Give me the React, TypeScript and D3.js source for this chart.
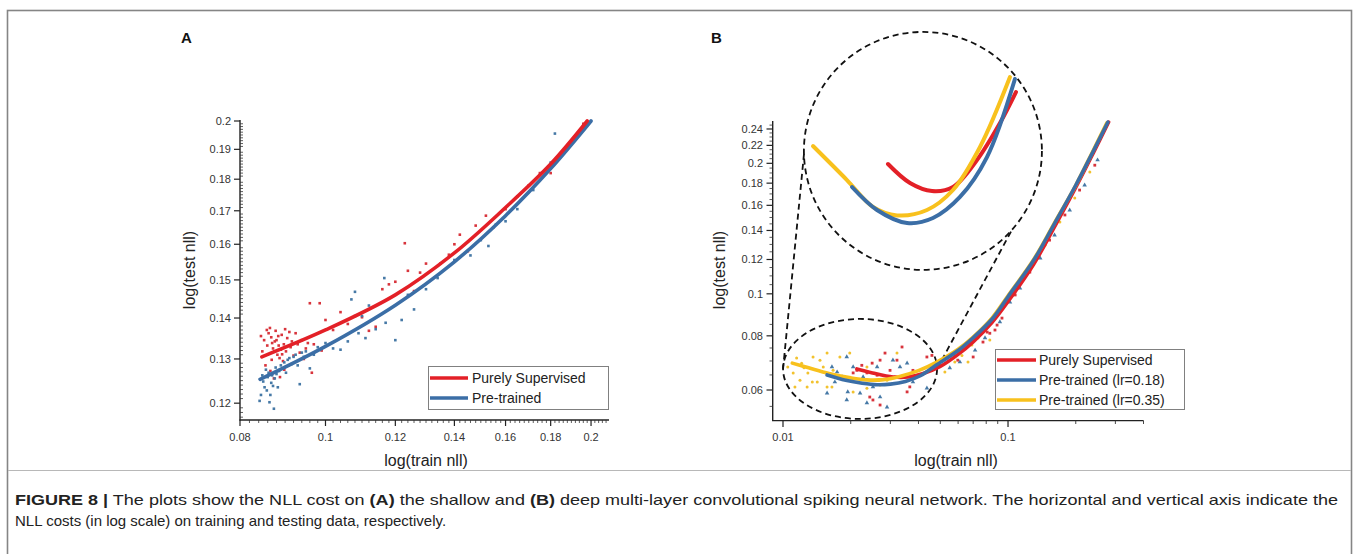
import React from 'react';
import * as d3 from 'd3';

// ---------- Panel A data ----------
const aXTicks = [0.08, 0.1, 0.12, 0.14, 0.16, 0.18, 0.2];
const aXTickLabels = ['0.08', '0.1', '0.12', '0.14', '0.16', '0.18', '0.2'];
const aYTicks = [0.12, 0.13, 0.14, 0.15, 0.16, 0.17, 0.18, 0.19, 0.2];
const aYTickLabels = ['0.12', '0.13', '0.14', '0.15', '0.16', '0.17', '0.18', '0.19', '0.2'];

const aRedCurve: [number, number][] = [
  [0.0847, 0.1305], [0.1, 0.137], [0.12, 0.146], [0.14, 0.1575], [0.16, 0.171], [0.18, 0.185], [0.198, 0.2],
];
const aBlueCurve: [number, number][] = [
  [0.0843, 0.1253], [0.1, 0.133], [0.12, 0.1433], [0.14, 0.155], [0.16, 0.1685], [0.18, 0.1835], [0.2, 0.2],
];
const aRedPoints: [number, number][] = [
  [0.0845, 0.1355], [0.0852, 0.1345], [0.0858, 0.137], [0.0862, 0.1362], [0.0865, 0.1375], [0.0868, 0.1352],
  [0.087, 0.1338], [0.0872, 0.1325], [0.0875, 0.1318], [0.0878, 0.1368], [0.088, 0.1345], [0.0882, 0.131],
  [0.0885, 0.1332], [0.0887, 0.1302], [0.089, 0.1322], [0.0892, 0.1358], [0.0895, 0.1295], [0.0897, 0.1335],
  [0.09, 0.1372], [0.0902, 0.1318], [0.0905, 0.135], [0.0908, 0.1285], [0.091, 0.1365], [0.0913, 0.1328],
  [0.0916, 0.1342], [0.092, 0.1308], [0.0925, 0.1362], [0.093, 0.1335], [0.0935, 0.1315], [0.094, 0.1345],
  [0.0945, 0.13], [0.095, 0.1325], [0.0955, 0.1338], [0.096, 0.1438], [0.0965, 0.1268], [0.097, 0.1335],
  [0.0985, 0.1438], [0.099, 0.132], [0.1, 0.1395], [0.102, 0.137], [0.104, 0.1415], [0.106, 0.1385],
  [0.108, 0.1405], [0.11, 0.1402], [0.112, 0.1368], [0.114, 0.1378], [0.116, 0.1475], [0.118, 0.1488],
  [0.12, 0.1495], [0.123, 0.1603], [0.124, 0.1525], [0.126, 0.147], [0.128, 0.152], [0.13, 0.1545],
  [0.135, 0.1545], [0.138, 0.157], [0.14, 0.16], [0.142, 0.1628], [0.145, 0.158], [0.148, 0.1655],
  [0.152, 0.1685], [0.155, 0.165], [0.16, 0.1705], [0.165, 0.1745], [0.17, 0.178], [0.175, 0.182],
  [0.18, 0.182], [0.185, 0.188], [0.19, 0.1925], [0.196, 0.199],
  [0.0855, 0.1285], [0.0866, 0.1272], [0.0874, 0.1255], [0.0888, 0.1258], [0.0898, 0.1275],
  [0.0848, 0.1318], [0.0859, 0.1332], [0.0869, 0.1298], [0.0876, 0.1342], [0.0884, 0.1355], [0.0893, 0.1311],
];
const aBluePoints: [number, number][] = [
  [0.0842, 0.1205], [0.0845, 0.1218], [0.0848, 0.1262], [0.085, 0.1248], [0.0853, 0.1235], [0.0856, 0.1275],
  [0.0858, 0.1228], [0.086, 0.1258], [0.0862, 0.1268], [0.0864, 0.1202], [0.0866, 0.1218], [0.0868, 0.1245],
  [0.087, 0.1262], [0.0872, 0.1238], [0.0874, 0.1188], [0.0876, 0.1255], [0.0878, 0.128], [0.088, 0.1265],
  [0.0883, 0.1235], [0.0886, 0.1272], [0.089, 0.1285], [0.0894, 0.1278], [0.0898, 0.1292], [0.0902, 0.1268],
  [0.0906, 0.1298], [0.091, 0.1302], [0.0915, 0.1288], [0.092, 0.1305], [0.0925, 0.131], [0.093, 0.1285],
  [0.0935, 0.1242], [0.094, 0.1315], [0.0945, 0.1305], [0.095, 0.1318], [0.096, 0.1278], [0.097, 0.131],
  [0.098, 0.1328], [0.1, 0.1338], [0.102, 0.1325], [0.104, 0.1322], [0.106, 0.1342], [0.107, 0.1448],
  [0.108, 0.1468], [0.109, 0.1362], [0.11, 0.1405], [0.111, 0.135], [0.112, 0.1432], [0.114, 0.1372],
  [0.117, 0.1388], [0.1166, 0.1505], [0.12, 0.1345], [0.122, 0.1395], [0.124, 0.146], [0.126, 0.1422],
  [0.13, 0.1475], [0.134, 0.1505], [0.14, 0.1555], [0.146, 0.1568], [0.15, 0.1612], [0.153, 0.1595],
  [0.156, 0.1658], [0.16, 0.1668], [0.165, 0.1705], [0.172, 0.1765], [0.18, 0.1855], [0.182, 0.1955], [0.19, 0.1925],
];

// ---------- Panel B data ----------
const bXTicks = [0.01, 0.1];
const bXTickLabels = ['0.01', '0.1'];
const bXMinor = [0.02, 0.03, 0.04, 0.05, 0.06, 0.07, 0.08, 0.09, 0.2, 0.3, 0.4];
const bYTicks = [0.06, 0.08, 0.1, 0.12, 0.14, 0.16, 0.18, 0.2, 0.22, 0.24];
const bYTickLabels = ['0.06', '0.08', '0.1', '0.12', '0.14', '0.16', '0.18', '0.2', '0.22', '0.24'];

const bYellowCurve: [number, number][] = [
  [0.011, 0.0692], [0.013, 0.0675], [0.016, 0.0655], [0.02, 0.064], [0.0236, 0.0633], [0.028, 0.0634],
  [0.033, 0.0645], [0.04, 0.0665], [0.048, 0.0695], [0.06, 0.0745], [0.07, 0.0795], [0.085, 0.088],
  [0.1, 0.099], [0.13, 0.12], [0.16, 0.145], [0.2, 0.178], [0.24, 0.215], [0.275, 0.248],
];
const bBlueCurve: [number, number][] = [
  [0.0157, 0.065], [0.019, 0.0632], [0.0225, 0.0622], [0.0262, 0.0617], [0.03, 0.0619], [0.035, 0.0628],
  [0.041, 0.0648], [0.048, 0.0685], [0.06, 0.074], [0.07, 0.0792], [0.085, 0.0875], [0.1, 0.0985],
  [0.13, 0.1195], [0.16, 0.1445], [0.2, 0.178], [0.24, 0.214], [0.278, 0.249],
];
const bRedCurve: [number, number][] = [
  [0.0213, 0.0671], [0.025, 0.0657], [0.0308, 0.0643], [0.036, 0.0643], [0.042, 0.0655], [0.05, 0.068],
  [0.06, 0.0725], [0.07, 0.0775], [0.085, 0.086], [0.1, 0.096], [0.13, 0.117], [0.16, 0.142],
  [0.2, 0.176], [0.24, 0.212], [0.28, 0.249],
];

// magnified inset curves
const insetYellow: [number, number][] = [
  [0.011, 0.0692], [0.01506, 0.06578], [0.01916, 0.06319], [0.02393, 0.0624], [0.03157, 0.06291],
  [0.04015, 0.06481], [0.05155, 0.0691], [0.068, 0.07669],
];
const insetBlue: [number, number][] = [
  [0.01578, 0.0651], [0.01988, 0.06291], [0.02625, 0.0617], [0.03336, 0.06216], [0.04283, 0.06414],
  [0.05498, 0.06807], [0.07121, 0.07647],
];
const insetRed: [number, number][] = [
  [0.02201, 0.06737], [0.02698, 0.06549], [0.03307, 0.06471], [0.04015, 0.0651], [0.05013, 0.06777],
  [0.062, 0.07161], [0.07188, 0.075],
];

const bYellowPoints: [number, number][] = [
  [0.0115, 0.0711], [0.0121, 0.0692], [0.0124, 0.0675], [0.0129, 0.0657], [0.0135, 0.0626], [0.0113, 0.061],
  [0.0128, 0.061], [0.0136, 0.0715], [0.0146, 0.0703], [0.0151, 0.0678], [0.0157, 0.073], [0.0167, 0.0666],
  [0.0174, 0.0643], [0.0111, 0.0657], [0.0105, 0.0678], [0.0142, 0.0626], [0.0165, 0.061], [0.0179, 0.0715],
  [0.0205, 0.0594], [0.0236, 0.0606], [0.027, 0.0616], [0.0321, 0.073], [0.0378, 0.0657], [0.029, 0.0632],
  [0.0198, 0.073], [0.0236, 0.0678], [0.0157, 0.061], [0.0119, 0.0632],
  [0.0524, 0.066], [0.058, 0.0696], [0.0624, 0.0721], [0.0691, 0.0762], [0.0736, 0.0791], [0.079, 0.0825],
  [0.0875, 0.0879], [0.0969, 0.0942], [0.1076, 0.102], [0.125, 0.1146], [0.146, 0.1295], [0.17, 0.1464],
  [0.198, 0.1663], [0.231, 0.1909], [0.0664, 0.0696], [0.083, 0.0782],
];
const bBluePoints: [number, number][] = [
  [0.0157, 0.059], [0.017, 0.0626], [0.0174, 0.066], [0.0192, 0.0715], [0.0192, 0.0569], [0.0194, 0.0594],
  [0.022, 0.059], [0.0227, 0.0643], [0.0236, 0.056], [0.0251, 0.061], [0.027, 0.0578], [0.029, 0.0548],
  [0.0308, 0.0703], [0.0331, 0.0678], [0.0356, 0.0692], [0.0378, 0.0626], [0.0436, 0.0606], [0.0205, 0.0678],
  [0.0262, 0.0678], [0.0165, 0.0678], [0.0183, 0.0643],
  [0.0551, 0.0675], [0.0611, 0.0696], [0.0714, 0.0741], [0.079, 0.0791], [0.092, 0.0861], [0.102, 0.0957],
  [0.113, 0.103], [0.139, 0.1209], [0.161, 0.1366], [0.188, 0.156], [0.219, 0.178], [0.25, 0.2035], [0.141, 0.1275],
];
const bRedPoints: [number, number][] = [
  [0.0213, 0.0666], [0.0224, 0.0684], [0.0236, 0.0657], [0.0249, 0.0692], [0.0262, 0.0649], [0.027, 0.0703],
  [0.0284, 0.073], [0.0299, 0.0666], [0.0315, 0.0643], [0.0338, 0.0754], [0.0356, 0.0594], [0.0366, 0.061],
  [0.0378, 0.0666], [0.0436, 0.0715], [0.0459, 0.0721], [0.0251, 0.0569], [0.027, 0.0554], [0.0243, 0.0578],
  [0.0205, 0.0657], [0.0321, 0.0703],
  [0.0875, 0.0825], [0.083, 0.0811], [0.0774, 0.0774], [0.0808, 0.0816], [0.0894, 0.0847], [0.07, 0.0715],
  [0.0598, 0.0703], [0.094, 0.0879], [0.1076, 0.0994], [0.125, 0.1122], [0.153, 0.133], [0.179, 0.152],
  [0.208, 0.1735], [0.243, 0.198],
];

const legendA = ['Purely Supervised', 'Pre-trained'];
const legendB = ['Purely Supervised', 'Pre-trained (lr=0.18)', 'Pre-trained (lr=0.35)'];

const captionLine1 = [
  { t: 'FIGURE 8 |', b: true },
  { t: ' The plots show the NLL cost on ', b: false },
  { t: '(A)', b: true },
  { t: ' the shallow and ', b: false },
  { t: '(B)', b: true },
  { t: ' deep multi-layer convolutional spiking neural network. The horizontal and vertical axis indicate the', b: false },
];
const captionLine2 = 'NLL costs (in log scale) on training and testing data, respectively.';

const RED = '#e32027';
const BLUE = '#3b6ea6';
const YELLOW = '#f8c11d';
const RED_PT = '#d8343c';
const BLUE_PT = '#4679a6';
const YELLOW_PT = '#f2c22e';
const FONT = 'Liberation Sans, Arial, sans-serif';

export default function App() {
  const xA = d3.scaleLog().domain([0.08, 0.2096]).range([240, 609]);
  const yA = d3.scaleLog().domain([0.1164, 0.2]).range([420, 121]);
  const xB = d3.scaleLog().domain([0.009, 0.4]).range([772.7, 1143.5]);
  const yB = d3.scaleLog().domain([0.051, 0.25]).range([420.6, 121.3]);
  const xI = d3.scaleLog().domain([0.011, 0.07]).range([813, 1013.1]);
  const yI = d3.scaleLog().domain([0.0617, 0.0767]).range([223, 77]);

  const lineA = d3.line<[number, number]>().x(d => xA(d[0])).y(d => yA(d[1])).curve(d3.curveCatmullRom.alpha(0.5));
  const lineB = d3.line<[number, number]>().x(d => xB(d[0])).y(d => yB(d[1])).curve(d3.curveCatmullRom.alpha(0.5));
  const lineI = d3.line<[number, number]>().x(d => xI(d[0])).y(d => yI(d[1])).curve(d3.curveCatmullRom.alpha(0.5));

  const aXMinor = d3.range(0.082, 0.2095, 0.002).filter(v => !aXTicks.some(t => Math.abs(t - v) < 1e-6));
  const aYMinor = d3.range(0.117, 0.2, 0.001).filter(v => !aYTicks.some(t => Math.abs(t - v) < 1e-6));
  const bYMinor = d3.range(0.055, 0.25, 0.005).filter(v => !bYTicks.some(t => Math.abs(t - v) < 1e-6));

  const tri = d3.symbol().type(d3.symbolTriangle).size(9)() as string;

  const ellC = [xB(0.022), yB(0.0671)];
  const ellR = [77, 50];
  const circC = [xI(0.0304), yI(0.0687)];
  const circR = 119;
  const angL = (183 * Math.PI) / 180;
  const angR = (41.6 * Math.PI) / 180;

  const tickFont = { fontFamily: FONT, fontSize: 11, fill: '#333' } as const;

  return (
    <svg width={1358} height={554} style={{ position: 'absolute', left: 0, top: 0, background: '#fff' }}>
      <rect x={0} y={0} width={1358} height={554} fill="#fff" />
      <rect x={7.5} y={10.5} width={1344} height={560} fill="none" stroke="#858585" strokeWidth={1.6} />
      <line x1={8} x2={1351} y1={470.5} y2={470.5} stroke="#b8b8b8" strokeWidth={1} />

      {/* ================= Panel A ================= */}
      <text x={181} y={43} fontFamily={FONT} fontWeight="bold" fontSize={15} fill="#111">A</text>
      {aRedPoints.map((d, i) => (
        <rect key={'ar' + i} x={xA(d[0]) - 1.3} y={yA(d[1]) - 1.3} width={2.6} height={2.6} fill={RED_PT} />
      ))}
      {aBluePoints.map((d, i) => (
        <rect key={'ab' + i} x={xA(d[0]) - 1.3} y={yA(d[1]) - 1.3} width={2.6} height={2.6} fill={BLUE_PT} />
      ))}
      <path d={lineA(aBlueCurve) || ''} fill="none" stroke={BLUE} strokeWidth={3.6} strokeLinecap="round" />
      <path d={lineA(aRedCurve) || ''} fill="none" stroke={RED} strokeWidth={3.6} strokeLinecap="round" />

      <line x1={240} x2={240} y1={120} y2={420.5} stroke="#222" strokeWidth={1.4} />
      <line x1={239.5} x2={609} y1={420} y2={420} stroke="#222" strokeWidth={1.4} />
      {aYMinor.map((v, i) => (
        <line key={'aym' + i} x1={240} x2={243} y1={yA(v)} y2={yA(v)} stroke="#333" strokeWidth={0.8} />
      ))}
      {aYTicks.map((v, i) => (
        <g key={'ayt' + i}>
          <line x1={234} x2={240} y1={yA(v)} y2={yA(v)} stroke="#222" strokeWidth={1.2} />
          <text x={231} y={yA(v)} textAnchor="end" dominantBaseline="central" {...tickFont}>{aYTickLabels[i]}</text>
        </g>
      ))}
      {aXMinor.map((v, i) => (
        <line key={'axm' + i} x1={xA(v)} x2={xA(v)} y1={420} y2={423} stroke="#333" strokeWidth={0.8} />
      ))}
      {aXTicks.map((v, i) => (
        <g key={'axt' + i}>
          <line x1={xA(v)} x2={xA(v)} y1={420} y2={426} stroke="#222" strokeWidth={1.2} />
          <text x={xA(v)} y={437} textAnchor="middle" dominantBaseline="central" {...tickFont}>{aXTickLabels[i]}</text>
        </g>
      ))}
      <text x={426} y={466} textAnchor="middle" fontFamily={FONT} fontSize={16} fill="#222">log(train nll)</text>
      <text transform="translate(195,270) rotate(-90)" textAnchor="middle" fontFamily={FONT} fontSize={16} fill="#222">log(test nll)</text>

      <rect x={428.5} y={366.5} width={180} height={43} fill="#fff" stroke="#808080" strokeWidth={1} />
      {legendA.map((t, i) => (
        <g key={'la' + i}>
          <line x1={430} x2={468} y1={378 + i * 20} y2={378 + i * 20} stroke={i === 0 ? RED : BLUE} strokeWidth={3.6} />
          <text x={472} y={378 + i * 20} dominantBaseline="central" fontFamily={FONT} fontSize={14} fill="#222">{t}</text>
        </g>
      ))}

      {/* ================= Panel B ================= */}
      <text x={711} y={43} fontFamily={FONT} fontWeight="bold" fontSize={15} fill="#111">B</text>

      <ellipse cx={ellC[0]} cy={ellC[1]} rx={ellR[0]} ry={ellR[1]} fill="none" stroke="#111" strokeWidth={1.8} strokeDasharray="6 4" />
      <circle cx={circC[0]} cy={circC[1]} r={circR} fill="none" stroke="#111" strokeWidth={1.8} strokeDasharray="6 4" />
      <line x1={ellC[0] - ellR[0]} y1={ellC[1]} x2={circC[0] + circR * Math.cos(angL)} y2={circC[1] - circR * Math.sin(angL) - 4}
        stroke="#111" strokeWidth={1.8} strokeDasharray="6 4" />
      <line x1={ellC[0] + ellR[0]} y1={ellC[1]} x2={circC[0] + circR * Math.cos(angR)} y2={circC[1] + circR * Math.sin(angR)}
        stroke="#111" strokeWidth={1.8} strokeDasharray="6 4" />

      {bYellowPoints.map((d, i) => (
        <circle key={'by' + i} cx={xB(d[0])} cy={yB(d[1])} r={1.5} fill={YELLOW_PT} />
      ))}
      {bBluePoints.map((d, i) => (
        <path key={'bb' + i} d={tri} transform={`translate(${xB(d[0])},${yB(d[1])})`} fill={BLUE_PT} />
      ))}
      {bRedPoints.map((d, i) => (
        <rect key={'br' + i} x={xB(d[0]) - 1.4} y={yB(d[1]) - 1.4} width={2.8} height={2.8} fill={RED_PT} />
      ))}

      <path d={lineB(bRedCurve) || ''} fill="none" stroke={RED} strokeWidth={3.6} strokeLinecap="round" />
      <path d={lineB(bYellowCurve) || ''} fill="none" stroke={YELLOW} strokeWidth={3.6} strokeLinecap="round" />
      <path d={lineB(bBlueCurve) || ''} fill="none" stroke={BLUE} strokeWidth={3.6} strokeLinecap="round" />

      <path d={lineI(insetRed) || ''} fill="none" stroke={RED} strokeWidth={4} strokeLinecap="round" />
      <path d={lineI(insetYellow) || ''} fill="none" stroke={YELLOW} strokeWidth={4} strokeLinecap="round" />
      <path d={lineI(insetBlue) || ''} fill="none" stroke={BLUE} strokeWidth={4} strokeLinecap="round" />

      <line x1={772.7} x2={772.7} y1={121} y2={421} stroke="#222" strokeWidth={1.4} />
      <line x1={772} x2={1143.5} y1={420.6} y2={420.6} stroke="#222" strokeWidth={1.4} />
      {bYMinor.map((v, i) => (
        <line key={'bym' + i} x1={769.5} x2={772.7} y1={yB(v)} y2={yB(v)} stroke="#333" strokeWidth={0.8} />
      ))}
      {bYTicks.map((v, i) => (
        <g key={'byt' + i}>
          <line x1={766.5} x2={772.7} y1={yB(v)} y2={yB(v)} stroke="#222" strokeWidth={1.2} />
          <text x={763} y={yB(v)} textAnchor="end" dominantBaseline="central" {...tickFont}>{bYTickLabels[i]}</text>
        </g>
      ))}
      {bXMinor.map((v, i) => (
        <line key={'bxm' + i} x1={xB(v)} x2={xB(v)} y1={420.6} y2={424} stroke="#333" strokeWidth={0.9} />
      ))}
      {bXTicks.map((v, i) => (
        <g key={'bxt' + i}>
          <line x1={xB(v)} x2={xB(v)} y1={420.6} y2={427} stroke="#222" strokeWidth={1.2} />
          <text x={xB(v)} y={437} textAnchor="middle" dominantBaseline="central" {...tickFont}>{bXTickLabels[i]}</text>
        </g>
      ))}
      <text x={956} y={466} textAnchor="middle" fontFamily={FONT} fontSize={16} fill="#222">log(train nll)</text>
      <text transform="translate(725,270) rotate(-90)" textAnchor="middle" fontFamily={FONT} fontSize={16} fill="#222">log(test nll)</text>

      <rect x={995.5} y={349.5} width={189} height={60} fill="#fff" stroke="#808080" strokeWidth={1} />
      {legendB.map((t, i) => (
        <g key={'lb' + i}>
          <line x1={997} x2={1036} y1={360 + i * 20} y2={360 + i * 20} stroke={[RED, BLUE, YELLOW][i]} strokeWidth={3.6} />
          <text x={1039} y={360 + i * 20} dominantBaseline="central" fontFamily={FONT} fontSize={14} fill="#222">{t}</text>
        </g>
      ))}

      {/* caption */}
      <text x={15} y={505} fontFamily={FONT} fontSize={15} fill="#222" textLength={1323} lengthAdjust="spacingAndGlyphs">
        {captionLine1.map((p, i) => (
          <tspan key={i} fontWeight={p.b ? 'bold' : 'normal'}>{p.t}</tspan>
        ))}
      </text>
      <text x={15} y={526} fontFamily={FONT} fontSize={15} fill="#222">{captionLine2}</text>
    </svg>
  );
}
